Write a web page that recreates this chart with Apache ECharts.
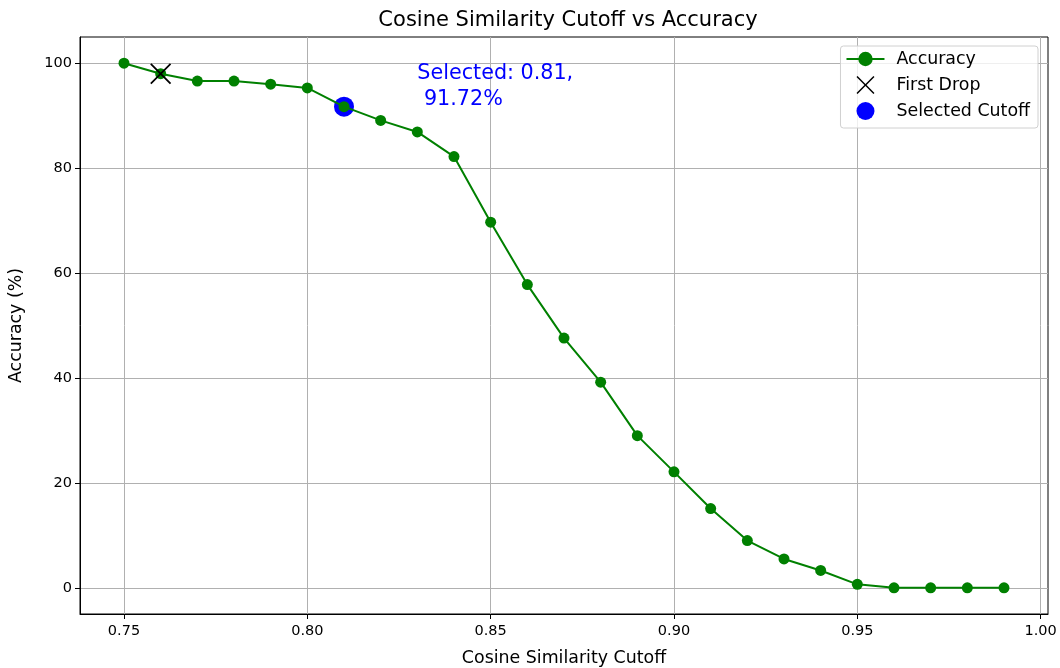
<!DOCTYPE html>
<html>
<head>
<meta charset="utf-8">
<script src="https://cdn.jsdelivr.net/npm/echarts@6/dist/echarts.min.js"></script>
<style>
html,body{margin:0;padding:0;background:#fff;}
#main{width:1060px;height:668px;}
</style>
</head>
<body>
<div id="main"></div>
<script>
// ---- data ----
const cutoffs = [0.75,0.76,0.77,0.78,0.79,0.80,0.81,0.82,0.83,0.84,0.85,0.86,0.87,0.88,0.89,0.90,0.91,0.92,0.93,0.94,0.95,0.96,0.97,0.98,0.99];
const accuracy = [100,98.0,96.6,96.6,96.0,95.3,91.72,89.1,86.9,82.2,69.7,57.8,47.6,39.2,29.0,22.1,15.1,9.0,5.5,3.3,0.65,0,0,0,0];
const firstDrop = [0.76, 98.0];
const selected = [0.81, 91.72];
const annotationPos = [0.83, 91.72];
const xTicks = [0.75,0.80,0.85,0.90,0.95,1.00];
const yTicks = [0,20,40,60,80,100];
const xRange = [0.738, 1.002];
const yRange = [-5, 105];

const FONT = 'DejaVu Sans';
const xPath = 'path://M0,6L6,0L50,44L94,0L100,6L56,50L100,94L94,100L50,56L6,100L0,94L44,50Z';

const chart = echarts.init(document.getElementById('main'), null, {renderer:'canvas'});
chart.setOption({
  animation:false,
  backgroundColor:'#fff',
  textStyle:{fontFamily:FONT},
  title:{
    text:'Cosine Similarity Cutoff vs Accuracy',
    left:563, top:5, textAlign:'center',
    textStyle:{fontFamily:FONT,fontSize:21,fontWeight:'normal',color:'#000'}
  },
  grid:{left:80,right:12,top:37,bottom:54,containLabel:false,outerBoundsMode:'none',
    show:true,borderColor:'#000',borderWidth:1,backgroundColor:'transparent'},
  legend:{
    orient:'vertical', right:22, top:46,
    data:[
      {name:'Accuracy'},
      {name:'First Drop', icon:xPath},
      {name:'Selected Cutoff', icon:'circle'}
    ],
    itemWidth:38, itemHeight:18, itemGap:8,
    padding:[4,8,8,5],
    borderColor:'#d0d0d0', borderWidth:1, borderRadius:3,
    backgroundColor:'rgba(255,255,255,0.8)',
    textStyle:{fontFamily:FONT,fontSize:17.4,lineHeight:18,color:'#000',padding:[0,0,0,7]}
  },
  xAxis:{
    type:'value', min:xRange[0], max:xRange[1],
    name:'Cosine Similarity Cutoff', nameLocation:'middle', nameGap:36,
    nameTextStyle:{fontFamily:FONT,fontSize:17.4,color:'#000'},
    axisLine:{show:true,onZero:false,lineStyle:{color:'#000',width:1}},
    axisTick:{show:true,length:5,lineStyle:{color:'#000'},customValues:xTicks},
    axisLabel:{fontFamily:FONT,fontSize:14.5,color:'#000',margin:10,customValues:xTicks,
      formatter:v=>v.toFixed(2)},
    splitLine:{show:true,lineStyle:{color:'#b0b0b0',width:1}}
  },
  yAxis:{
    type:'value', min:yRange[0], max:yRange[1],
    name:'Accuracy (%)', nameLocation:'middle', nameGap:55,
    nameTextStyle:{fontFamily:FONT,fontSize:17.4,color:'#000'},
    axisLine:{show:true,onZero:false,lineStyle:{color:'#000',width:1}},
    axisTick:{show:true,length:5,lineStyle:{color:'#000'},customValues:yTicks},
    axisLabel:{fontFamily:FONT,fontSize:14.5,color:'#000',margin:8,customValues:yTicks,
      formatter:v=>String(Math.round(v))},
    splitLine:{show:true,lineStyle:{color:'#b0b0b0',width:1}}
  },
  series:[
    {
      name:'Selected Cutoff', type:'scatter', z:2,
      data:[selected], symbol:'circle', symbolSize:20,
      itemStyle:{color:'#0000ff',opacity:1},
      markPoint:{
        symbol:'circle', symbolSize:0,
        data:[{coord:annotationPos}],
        label:{show:true, position:[0,0], align:'left', verticalAlign:'bottom',
          offset:[0,6],
          formatter:'Selected: ' + selected[0].toFixed(2) + ',\n ' + selected[1].toFixed(2) + '%',
          fontFamily:FONT, fontSize:20.7, lineHeight:26, color:'#0000ff'}
      }
    },
    {
      name:'Accuracy', type:'line', z:3,
      data:cutoffs.map((c,i)=>[c,accuracy[i]]),
      symbol:'circle', symbolSize:11, showSymbol:true,
      lineStyle:{color:'#008000',width:2},
      itemStyle:{color:'#008000',opacity:1}
    },
    {
      name:'First Drop', type:'scatter', z:4,
      data:[firstDrop], symbol:xPath, symbolSize:21,
      itemStyle:{color:'#000',opacity:1}
    }
  ]
});
</script>
</body>
</html>
